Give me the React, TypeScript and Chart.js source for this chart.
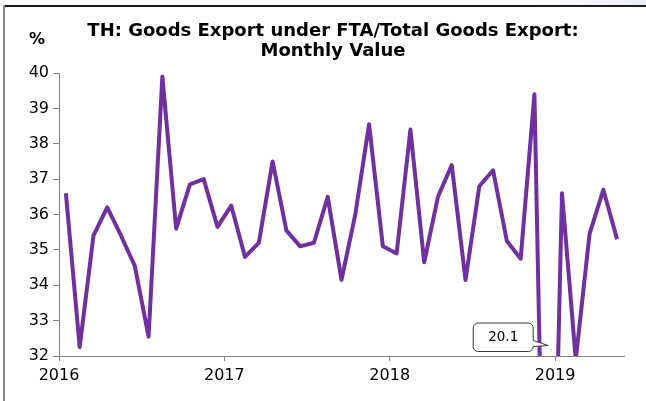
import React, { useEffect, useRef } from "react";
import { Chart, registerables } from "chart.js";

Chart.register(...registerables);

// ---- data ----
const months: string[] = [
  "2016-01", "2016-02", "2016-03", "2016-04", "2016-05", "2016-06",
  "2016-07", "2016-08", "2016-09", "2016-10", "2016-11", "2016-12",
  "2017-01", "2017-02", "2017-03", "2017-04", "2017-05", "2017-06",
  "2017-07", "2017-08", "2017-09", "2017-10", "2017-11", "2017-12",
  "2018-01", "2018-02", "2018-03", "2018-04", "2018-05", "2018-06",
  "2018-07", "2018-08", "2018-09", "2018-10", "2018-11", "2018-12",
  "2019-01", "2019-02", "2019-03", "2019-04", "2019-05",
];

const values: number[] = [
  36.6, 32.25, 35.4, 36.2, 35.4, 34.55, 32.55, 39.9, 35.6, 36.85, 37.0, 35.65,
  36.25, 34.8, 35.2, 37.5, 35.55, 35.1, 35.2, 36.5, 34.15, 36.0, 38.55, 35.1,
  34.9, 38.4, 34.65, 36.5, 37.4, 34.15, 36.8, 37.25, 35.25, 34.75, 39.4, 20.1,
  36.6, 31.9, 35.45, 36.7, 35.3,
];

const yTicks: number[] = [32, 33, 34, 35, 36, 37, 38, 39, 40];
const yearTicks: number[] = [2016, 2017, 2018, 2019];
const titleLines: string[] = [
  "TH: Goods Export under FTA/Total Goods Export:",
  "Monthly Value",
];
const unitLabel = "%";
const calloutMonth = "2018-12";
const calloutText = "20.1";

const LINE_COLOR = "#7030A0";
const AXIS_COLOR = "#808080";
const FONT = "'DejaVu Sans', 'Liberation Sans', Arial, sans-serif";

function monthToX(s: string): number {
  const [y, m] = s.split("-").map(Number);
  return y + (m - 0.5) / 12;
}

function monthStart(s: string): number {
  const [y, m] = s.split("-").map(Number);
  return y + (m - 1) / 12;
}

function monthEnd(s: string): number {
  const [y, m] = s.split("-").map(Number);
  return y + m / 12;
}

const overlayPlugin = {
  id: "overlay",
  afterDraw(chart: any) {
    const { ctx, chartArea, scales } = chart;
    ctx.save();

    // title (centred a little left of the plot centre, as in the source)
    ctx.font = `bold 18px ${FONT}`;
    ctx.fillStyle = "#000";
    ctx.textAlign = "center";
    ctx.textBaseline = "alphabetic";
    const titleX = chartArea.left + 274;
    titleLines.forEach((line, i) => {
      ctx.fillText(line, titleX, chartArea.top - 37 + i * 20);
    });

    // unit label
    ctx.font = `bold 16px ${FONT}`;
    ctx.fillText(unitLabel, chartArea.left - 22, chartArea.top - 29);

    // callout for the off-scale value
    const tipX = scales.x.getPixelForValue(monthToX(calloutMonth));
    const tipY = chartArea.bottom - 10.5;
    const right = tipX - 15;
    const left = right - 60;
    const top = chartArea.bottom - 33;
    const bottom = chartArea.bottom - 4.5;
    const r = 5;
    ctx.beginPath();
    ctx.moveTo(left + r, top);
    ctx.lineTo(right - r, top);
    ctx.arcTo(right, top, right, top + r, r);
    ctx.lineTo(right, bottom - 11);
    ctx.lineTo(tipX, tipY);
    ctx.lineTo(right, bottom - 5);
    ctx.lineTo(right, bottom - r);
    ctx.arcTo(right, bottom, right - r, bottom, r);
    ctx.lineTo(left + r, bottom);
    ctx.arcTo(left, bottom, left, bottom - r, r);
    ctx.lineTo(left, top + r);
    ctx.arcTo(left, top, left + r, top, r);
    ctx.closePath();
    ctx.fillStyle = "#ffffff";
    ctx.fill();
    ctx.lineWidth = 1;
    ctx.strokeStyle = "#3a3a3a";
    ctx.stroke();

    ctx.font = `13.5px ${FONT}`;
    ctx.fillStyle = "#000";
    ctx.textAlign = "center";
    ctx.textBaseline = "middle";
    ctx.fillText(calloutText, (left + right) / 2, (top + bottom) / 2 + 0.5);
    ctx.restore();
  },
};

export default function App() {
  const canvasRef = useRef<HTMLCanvasElement | null>(null);

  useEffect(() => {
    const canvas = canvasRef.current;
    if (!canvas) return;
    const points = months.map((m, i) => ({ x: monthToX(m), y: values[i] }));

    const chart = new Chart(canvas, {
      type: "line",
      data: {
        datasets: [
          {
            label: "Goods Export under FTA/Total Goods Export",
            data: points,
            borderColor: LINE_COLOR,
            backgroundColor: LINE_COLOR,
            borderWidth: 4,
            borderJoinStyle: "round",
            pointRadius: 0,
            pointHoverRadius: 0,
            tension: 0,
            fill: false,
            clip: { left: 10, top: 10, right: 10, bottom: 0 } as any,
          },
        ],
      },
      options: {
        responsive: false,
        animation: false,
        devicePixelRatio: 1,
        events: [],
        layout: { padding: { left: 10, right: 22, top: 73, bottom: 0 } },
        plugins: {
          legend: { display: false },
          tooltip: { enabled: false },
          title: { display: false },
        },
        scales: {
          x: {
            type: "linear",
            min: monthStart(months[0]),
            max: monthEnd(months[months.length - 1]),
            afterBuildTicks: (scale: any) => {
              scale.ticks = yearTicks.map((v) => ({ value: v }));
            },
            afterFit: (scale: any) => {
              scale.height = 45;
            },
            ticks: {
              autoSkip: false,
              maxRotation: 0,
              includeBounds: false,
              padding: 5,
              color: "#000",
              font: { family: FONT, size: 16 },
              callback: (v: any) => String(v),
            },
            grid: {
              drawOnChartArea: false,
              drawTicks: true,
              tickLength: 5,
              color: AXIS_COLOR,
              lineWidth: 1,
            },
            border: { display: true, color: AXIS_COLOR, width: 1 },
          },
          y: {
            type: "linear",
            min: yTicks[0],
            max: yTicks[yTicks.length - 1],
            afterBuildTicks: (scale: any) => {
              scale.ticks = yTicks.map((v) => ({ value: v }));
            },
            afterFit: (scale: any) => {
              scale.width = 49;
            },
            ticks: {
              autoSkip: false,
              padding: 4,
              color: "#000",
              font: { family: FONT, size: 16 },
              callback: (v: any) => String(v),
            },
            grid: {
              drawOnChartArea: false,
              drawTicks: true,
              tickLength: 6,
              color: AXIS_COLOR,
              lineWidth: 1,
            },
            border: { display: true, color: AXIS_COLOR, width: 1 },
          },
        },
      },
      plugins: [overlayPlugin],
    });

    return () => {
      chart.destroy();
    };
  }, []);

  return (
    <div
      style={{
        position: "absolute",
        left: 0,
        top: 0,
        width: 646,
        height: 401,
        background: "#ffffff",
        overflow: "hidden",
      }}
    >
      <div
        style={{
          position: "absolute",
          left: 520,
          top: 0,
          width: 126,
          height: 5,
          background: "linear-gradient(to right, #ffffff, #eceef8)",
        }}
      />
      <div
        style={{
          position: "absolute",
          left: 3,
          top: 5,
          right: 0,
          height: 2,
          background: "#1c1c1c",
        }}
      />
      <div
        style={{
          position: "absolute",
          left: 3,
          top: 5,
          width: 2,
          bottom: 0,
          background: "#8a8a8a",
        }}
      />
      <canvas
        ref={canvasRef}
        width={646}
        height={401}
        style={{ position: "absolute", left: 0, top: 0, width: 646, height: 401 }}
      />
    </div>
  );
}
